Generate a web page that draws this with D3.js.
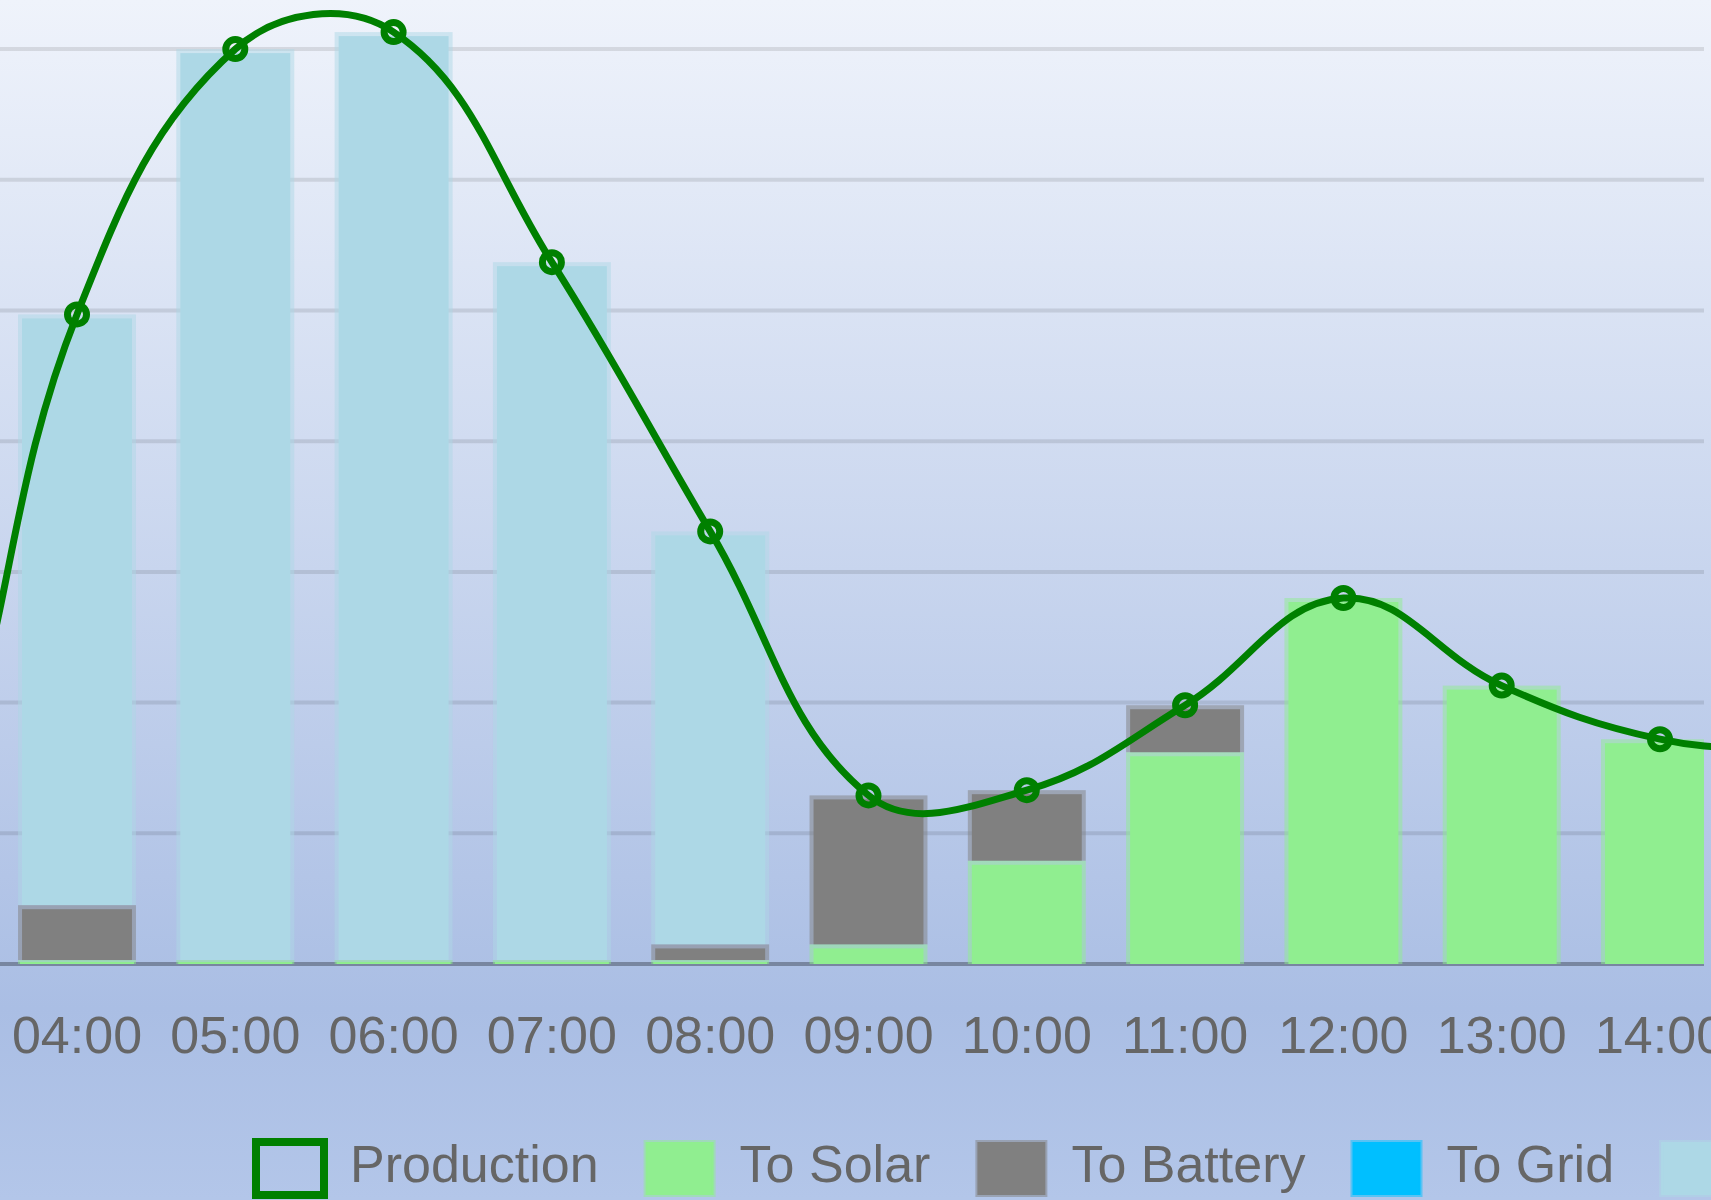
<!DOCTYPE html>
<html>
<head>
<meta charset="utf-8">
<script src="https://cdn.jsdelivr.net/npm/d3@7/dist/d3.min.js"></script>
<style>
  body { margin: 0; overflow: hidden; }
  svg { display: block; font-family: "Liberation Sans", Arial, Helvetica, sans-serif; }
</style>
</head>
<body>
<div id="chart"></div>
<script>
// hourly energy flow (kWh)
// 02:00, 03:00, 15:00 and 16:00 lie outside the visible window but shape the curve
const hours = ["02:00", "03:00", "04:00", "05:00", "06:00", "07:00", "08:00", "09:00",
  "10:00", "11:00", "12:00", "13:00", "14:00", "15:00", "16:00"];
const production = [0.5, 0.9, 4.97, 7.0, 7.13, 5.37, 3.31, 1.29, 1.33, 1.98, 2.8, 2.13, 1.72, 1.6, 1.3];
const toSolar =    [0, 0, 0.03, 0.03, 0.03, 0.03, 0.03, 0.15, 0.79, 1.62, 2.8, 2.13, 1.72, 1.6, 1.3];
const toBattery =  [0, 0, 0.42, 0, 0, 0, 0.12, 1.14, 0.54, 0.36, 0, 0, 0, 0, 0];
const toGrid =     [0, 0, 0, 0, 0, 0, 0, 0, 0, 0, 0, 0, 0, 0, 0];
const toHome =     [0.5, 0.9, 4.52, 6.97, 7.1, 5.34, 3.16, 0, 0, 0, 0, 0, 0, 0, 0];

const series = [
  { key: "toSolar", label: "To Solar", color: "#90ee90", values: toSolar },
  { key: "toBattery", label: "To Battery", color: "#808080", values: toBattery },
  { key: "toGrid", label: "To Grid", color: "#00bfff", values: toGrid },
  { key: "toHome", label: "To Home", color: "#add8e6", values: toHome }
];
const lineColor = "#008000";

const width = 1711;
const height = 1200;
const baseY = 964;
const gridStep = 130.7;
const step = 158.3;
const plotLeft = 77 - 2.5 * step;   // chart is scrolled, left part is off screen
const clipRight = 1704;

const rows = hours.map((h, i) => {
  const r = { hour: h };
  series.forEach(s => { r[s.key] = s.values[i]; });
  return r;
});

const x = d3.scaleBand()
  .domain(hours)
  .range([plotLeft, plotLeft + hours.length * step])
  .padding(0);

const y = d3.scaleLinear()
  .domain([0, 8])
  .range([baseY, baseY - 8 * gridStep]);

const barW = x.bandwidth() * 0.745;
const cx = h => x(h) + x.bandwidth() / 2;

const svg = d3.select("#chart")
  .append("svg")
  .attr("width", width)
  .attr("height", height);

const defs = svg.append("defs");
const grad = defs.append("linearGradient")
  .attr("id", "bg")
  .attr("x1", 0).attr("y1", 0).attr("x2", 0).attr("y2", 1);
grad.append("stop").attr("offset", 0).attr("stop-color", "#eff3fb");
grad.append("stop").attr("offset", 0.84).attr("stop-color", "#aabee4");
grad.append("stop").attr("offset", 1).attr("stop-color", "#b3c6e9");

defs.append("clipPath").attr("id", "area")
  .append("rect")
  .attr("x", -500).attr("y", -200)
  .attr("width", clipRight + 500).attr("height", baseY + 210);

svg.append("rect")
  .attr("width", width)
  .attr("height", height)
  .attr("fill", "url(#bg)");

const plot = svg.append("g").attr("clip-path", "url(#area)");

// horizontal grid
plot.append("g")
  .selectAll("line")
  .data(y.ticks(8).filter(d => d > 0))
  .join("line")
  .attr("x1", -10)
  .attr("x2", clipRight)
  .attr("y1", d => y(d))
  .attr("y2", d => y(d))
  .attr("stroke", "rgba(0,0,0,0.1)")
  .attr("stroke-width", 4);

plot.append("line")
  .attr("x1", -10)
  .attr("x2", clipRight)
  .attr("y1", y(0))
  .attr("y2", y(0))
  .attr("stroke", "rgba(0,0,0,0.3)")
  .attr("stroke-width", 4);

// stacked bars, drawn top layer first like chart.js does
const stacked = d3.stack().keys(series.map(s => s.key))(rows);

stacked.slice().reverse().forEach(layer => {
  const s = series.find(d => d.key === layer.key);
  const g = plot.append("g");
  layer.forEach(d => {
    const top = y(d[1]);
    const h = y(d[0]) - top;
    if (h <= 0) return;
    const x0 = cx(d.data.hour) - barW / 2;
    const b = Math.min(4, h / 2, barW / 2);
    // border (bottom skipped)
    g.append("rect")
      .attr("x", x0).attr("y", top)
      .attr("width", barW).attr("height", h)
      .attr("fill", s.color)
      .attr("fill-opacity", 0.5);
    g.append("rect")
      .attr("x", x0 + b).attr("y", top + b)
      .attr("width", barW - 2 * b).attr("height", Math.max(0, h - b))
      .attr("fill", s.color);
  });
});

// chart.js style spline (tension 0.4)
function chartjsSpline(context) {
  let pts = [];
  return {
    areaStart() {},
    areaEnd() {},
    lineStart() { pts = []; },
    point(px, py) { pts.push([+px, +py]); },
    lineEnd() {
      const n = pts.length;
      const t = 0.4;
      const cps = pts.map((p, i) => {
        const prev = pts[Math.max(i - 1, 0)];
        const next = pts[Math.min(i + 1, n - 1)];
        const d01 = Math.hypot(p[0] - prev[0], p[1] - prev[1]);
        const d12 = Math.hypot(next[0] - p[0], next[1] - p[1]);
        let s01 = d01 / (d01 + d12);
        let s12 = d12 / (d01 + d12);
        if (!isFinite(s01)) s01 = 0;
        if (!isFinite(s12)) s12 = 0;
        const fa = t * s01, fb = t * s12;
        return {
          before: [p[0] - fa * (next[0] - prev[0]), p[1] - fa * (next[1] - prev[1])],
          after: [p[0] + fb * (next[0] - prev[0]), p[1] + fb * (next[1] - prev[1])]
        };
      });
      context.moveTo(pts[0][0], pts[0][1]);
      for (let i = 1; i < n; i++) {
        context.bezierCurveTo(cps[i - 1].after[0], cps[i - 1].after[1],
          cps[i].before[0], cps[i].before[1], pts[i][0], pts[i][1]);
      }
    }
  };
}

const lineData = hours.map((h, i) => ({ hour: h, value: production[i] }));

const line = d3.line()
  .x(d => cx(d.hour))
  .y(d => y(d.value))
  .curve(chartjsSpline);

svg.append("path")
  .datum(lineData)
  .attr("fill", "none")
  .attr("stroke", lineColor)
  .attr("stroke-width", 7)
  .attr("d", line);

svg.append("g")
  .selectAll("circle")
  .data(lineData)
  .join("circle")
  .attr("cx", d => cx(d.hour))
  .attr("cy", d => y(d.value))
  .attr("r", 9.5)
  .attr("fill", "none")
  .attr("stroke", lineColor)
  .attr("stroke-width", 7);

// x axis labels
const xAxis = svg.append("g")
  .attr("transform", `translate(0,${baseY})`)
  .call(d3.axisBottom(x).tickSize(0).tickPadding(52));
xAxis.select(".domain").remove();
xAxis.selectAll("text")
  .attr("fill", "#666")
  .style("font-size", "52px")
  .style("font-family", "'Liberation Sans', Arial, Helvetica, sans-serif");

// legend
const legendItems = [{ label: "Production", color: lineColor, line: true }]
  .concat(series.map(s => ({ label: s.label, color: s.color })));

const legend = svg.append("g");
let lx = 256;
const boxW = 68, boxH = 53, boxY = 1142, textGap = 26, itemGap = 47;
legendItems.forEach(item => {
  if (item.line) {
    legend.append("rect")
      .attr("x", lx).attr("y", boxY)
      .attr("width", boxW).attr("height", boxH)
      .attr("fill", "none")
      .attr("stroke", item.color)
      .attr("stroke-width", 8);
  } else {
    legend.append("rect")
      .attr("x", lx).attr("y", boxY)
      .attr("width", boxW).attr("height", boxH)
      .attr("fill", item.color)
      .attr("stroke", item.color)
      .attr("stroke-opacity", 0.5)
      .attr("stroke-width", 4);
  }
  const txt = legend.append("text")
    .attr("x", lx + boxW + textGap)
    .attr("y", 1182)
    .attr("fill", "#666")
    .style("font-size", "52px")
    .text(item.label);
  lx += boxW + textGap + txt.node().getComputedTextLength() + itemGap;
});
</script>
</body>
</html>
